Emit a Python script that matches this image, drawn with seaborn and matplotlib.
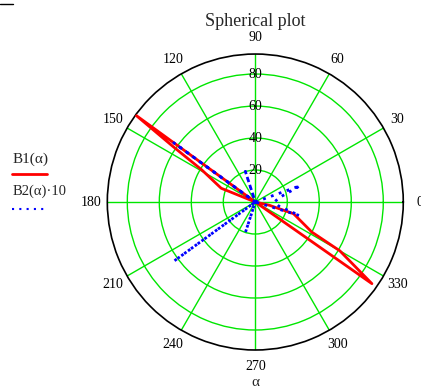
import numpy as np
import matplotlib
matplotlib.use("Agg")
import matplotlib.pyplot as plt
import seaborn as sns
import pandas as pd
from matplotlib.lines import Line2D

sns.set_style("white")
plt.rcParams['font.family'] = ['Liberation Serif', 'DejaVu Serif']

# ---- data (angles in degrees, radii in plot units) ----
b1_angle = [144, 144, 146, 149, 158, 180, 325, 325, 330, 332, 343, 347, 0]
b1_r     = [0,   92,  62,  39,  23,  0,   0,   89,  61,  40,  25,  9,   0]

b2_angle = [0, 20, 10, 0, 350, 343, 0, 108, 0, 144, 180, 216, 0, 252, 0]
b2_r     = [0, 30, 15, 12, 15, 29,  0, 20,  0, 63,  0,   63,  0, 20,  0]

ring_values = [20, 40, 60, 80]
angle_labels = [0, 30, 60, 90, 120, 150, 180, 210, 240, 270, 300, 330]
r_max = 92.5

title = "Spherical plot"
series1_label = "B1(\u03b1)"
series2_label = "B2(\u03b1)\u00b710"
angle_axis_label = "\u03b1"

fig = plt.figure(figsize=(4.21, 3.92), dpi=100)
ax = fig.add_axes([0.2549, 0.1071, 0.703, 0.7551], projection='polar')

grid_green = '#00e600'

df1 = pd.DataFrame({'theta': np.deg2rad(b1_angle), 'r': b1_r})
df2 = pd.DataFrame({'theta': np.deg2rad(b2_angle), 'r': b2_r})

sns.lineplot(data=df1, x='theta', y='r', sort=False, estimator=None, ax=ax,
             color='#ff0000', lw=2.0, zorder=4)
sns.lineplot(data=df2, x='theta', y='r', sort=False, estimator=None, ax=ax,
             color='#0000ff', lw=2.0, linestyle=(0, (1, 2)), zorder=5)

ax.set_ylim(0, r_max)
ax.set_rticks(ring_values)
ax.set_yticklabels([])
ax.set_thetagrids(angle_labels, labels=[''] * len(angle_labels))
ax.grid(True, color=grid_green, lw=1.0)
ax.spines['polar'].set_color('black')
ax.spines['polar'].set_linewidth(1.2)
ax.set_xlabel('')
ax.set_ylabel('')
ax.tick_params(pad=0)

for v in ring_values:
    ax.text(np.deg2rad(90), v, str(v), ha='center', va='center', fontsize=10,
            color='black', zorder=6)

for a in angle_labels:
    ax.text(np.deg2rad(a), r_max * 1.11, str(a), ha='center', va='center',
            fontsize=10, color='black', clip_on=False)

fig.text(0.6064, 0.946, title, ha='center', va='center', fontsize=13)
fig.text(0.6064, 0.023, angle_axis_label, ha='center', va='center', fontsize=11)

# legend (left side, Mathcad style)
fig.text(0.030, 1 - 159 / 392, series1_label, ha='left', va='center', fontsize=11)
fig.add_artist(Line2D([12 / 421, 47 / 421], [1 - 174 / 392] * 2, color='#ff0000', lw=2.0))
fig.text(0.030, 1 - 191 / 392, series2_label, ha='left', va='center', fontsize=10.5)
fig.add_artist(Line2D([12 / 421, 46 / 421], [1 - 209 / 392] * 2, color='#0000ff', lw=1.5,
                      linestyle=(0, (1, 2.5))))

# small mark at top-left corner
fig.add_artist(Line2D([0, 13 / 421], [1 - 4 / 392] * 2, color='black', lw=1.0))

fig.savefig('out.png', dpi=100)
